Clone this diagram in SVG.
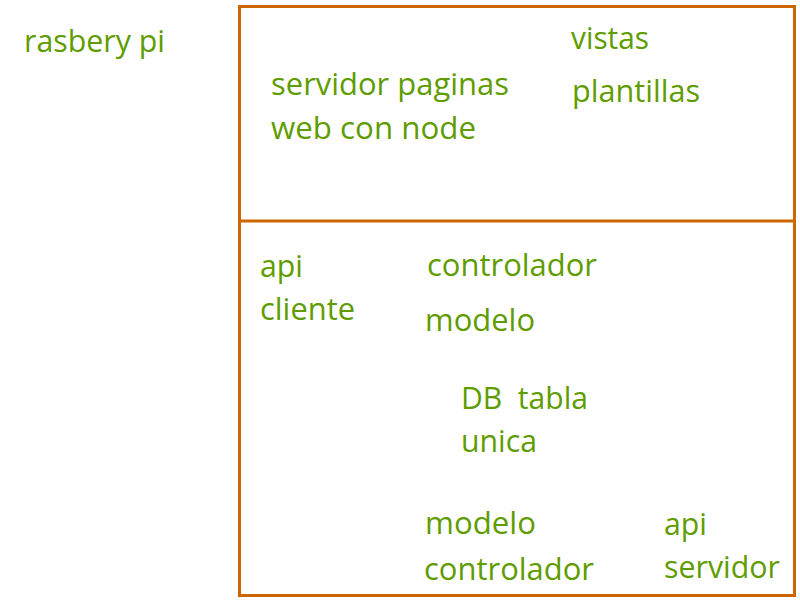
<svg xmlns="http://www.w3.org/2000/svg" width="800" height="600" viewBox="0 0 800 600">
<style>
.t{font-family:"Open Sans","Noto Sans","DejaVu Sans",sans-serif;font-size:31px;fill:#5F9C00}
.b{fill:none;stroke:#CC6600;stroke-width:3}
</style>
<rect width="800" height="600" fill="#fff"/>
<g id="rasbery-pi"><text class="t" x="24" y="52" textLength="141" lengthAdjust="spacingAndGlyphs">rasbery pi</text></g>
<g id="container">
<rect class="b" x="239.5" y="6.5" width="555" height="589"/>
</g>
<g id="connectors">
<line class="b" x1="239.5" y1="221" x2="794.5" y2="221"/>
</g>
<g id="servidor-paginas">
<text class="t" x="271" y="95" textLength="238" lengthAdjust="spacingAndGlyphs">servidor paginas</text>
<text class="t" x="271" y="139" textLength="205" lengthAdjust="spacingAndGlyphs">web con node</text>
</g>
<g id="vistas"><text class="t" x="571" y="49" textLength="78" lengthAdjust="spacingAndGlyphs">vistas</text></g>
<g id="plantillas"><text class="t" x="572" y="102" textLength="128" lengthAdjust="spacingAndGlyphs">plantillas</text></g>
<g id="api-cliente">
<text class="t" x="260" y="277" textLength="43" lengthAdjust="spacingAndGlyphs">api</text>
<text class="t" x="260" y="320" textLength="95" lengthAdjust="spacingAndGlyphs">cliente</text>
</g>
<g id="controlador-top"><text class="t" x="427" y="276" textLength="170" lengthAdjust="spacingAndGlyphs">controlador</text></g>
<g id="modelo-top"><text class="t" x="425" y="331" textLength="110" lengthAdjust="spacingAndGlyphs">modelo</text></g>
<g id="db">
<text class="t" x="461" y="409" textLength="127" lengthAdjust="spacingAndGlyphs" xml:space="preserve">DB  tabla</text>
<text class="t" x="461" y="452" textLength="76" lengthAdjust="spacingAndGlyphs">unica</text>
</g>
<g id="modelo-controlador">
<text class="t" x="425" y="534" textLength="111" lengthAdjust="spacingAndGlyphs">modelo</text>
<text class="t" x="424" y="580" textLength="170" lengthAdjust="spacingAndGlyphs">controlador</text>
</g>
<g id="api-servidor">
<text class="t" x="664" y="535" textLength="43" lengthAdjust="spacingAndGlyphs">api</text>
<text class="t" x="664" y="578" textLength="116" lengthAdjust="spacingAndGlyphs">servidor</text>
</g>
</svg>
